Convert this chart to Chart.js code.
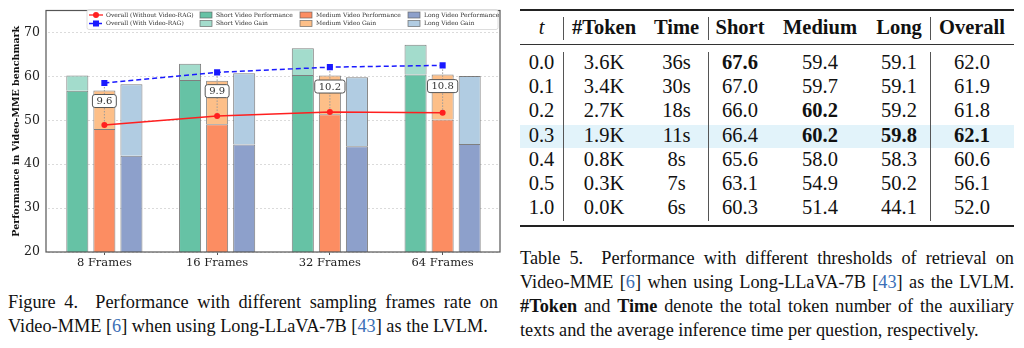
<!DOCTYPE html>
<html>
<head>
<meta charset="utf-8">
<script src="https://cdn.jsdelivr.net/npm/chart.js@4.4.0/dist/chart.umd.min.js"></script>
<style>
  body { margin: 0; width: 1024px; height: 348px; background: #fff; position: relative; overflow: hidden;
         font-family: 'Liberation Serif', 'Times New Roman', serif; color: #111; }
  #fig { position: absolute; left: 0; top: 0; }
  .cap { position: absolute; font-size: 18.3px; line-height: 24px; }
  .cap div { height: 24px; }
  .j { text-align: justify; text-align-last: justify; }
  .nw { white-space: nowrap; }
  .cite { color: #3b6fb6; }
  #tbl div { position: absolute; }
</style>
</head>
<body>
<canvas id="fig" width="510" height="272"></canvas>
<div id="tbl"></div>

<div class="cap" style="left:8px; top:290px; width:490px;">
  <div class="j">Figure 4.&nbsp; Performance with different sampling frames rate on</div>
  <div class="nw">Video-MME [<span class="cite">6</span>] when using Long-LLaVA-7B [<span class="cite">43</span>] as the LVLM.</div>
</div>

<div class="cap" style="left:520px; top:246px; width:494px;">
  <div class="j">Table 5.&nbsp; Performance with different thresholds of retrieval on</div>
  <div class="j">Video-MME [<span class="cite">6</span>] when using Long-LLaVA-7B [<span class="cite">43</span>] as the LVLM.</div>
  <div class="j"><b>#Token</b> and <b>Time</b> denote the total token number of the auxiliary</div>
  <div class="nw">texts and the average inference time per question, respectively.</div>
</div>

<script>
// ---- chart data (Figure 4) ----
const frames = ['8 Frames', '16 Frames', '32 Frames', '64 Frames'];
const shortPerf = [56.7, 59.2, 60.3, 60.4];
const shortGain = [3.5, 3.7, 6.1, 6.8];
const mediumPerf = [48.0, 49.1, 51.4, 50.2];
const mediumGain = [8.8, 9.9, 8.8, 10.2];
const longPerf = [41.9, 44.5, 44.1, 44.6];
const longGain = [16.3, 16.2, 15.7, 15.5];
const overallNoRag = [48.9, 51.0, 51.9, 51.7];
const overallRag = [58.5, 60.9, 62.1, 62.5];
const ragGain = [9.6, 9.9, 10.2, 10.8];

// ---- table data (Table 5) ----
const tHeader = ['t', '#Token', 'Time', 'Short', 'Medium', 'Long', 'Overall'];
const thresholds = ['0.0', '0.1', '0.2', '0.3', '0.4', '0.5', '1.0'];
const tokens = ['3.6K', '3.4K', '2.7K', '1.9K', '0.8K', '0.3K', '0.0K'];
const times = ['36s', '30s', '18s', '11s', '8s', '7s', '6s'];
const shortScores = [67.6, 67.0, 66.0, 66.4, 65.6, 63.1, 60.3];
const mediumScores = [59.4, 59.7, 60.2, 60.2, 58.0, 54.9, 51.4];
const longScores = [59.1, 59.1, 59.2, 59.8, 58.3, 50.2, 44.1];
const overallScores = [62.0, 61.9, 61.8, 62.1, 60.6, 56.1, 52.0];

// build the table
var tbl = document.getElementById('tbl');
var colLeft = [520, 563, 645, 708, 772, 868, 930];
var colWidth = [43, 82, 63, 64, 96, 62, 84];
function box(l, t, w, h, bg) {
  var d = document.createElement('div');
  d.style.cssText = 'left:' + l + 'px;top:' + t + 'px;width:' + w + 'px;height:' + h + 'px;background:' + bg;
  tbl.appendChild(d);
}
function cell(c, top, txt, bold, italic) {
  var d = document.createElement('div');
  d.style.cssText = 'left:' + colLeft[c] + 'px;top:' + top + 'px;width:' + colWidth[c] +
    'px;height:24px;line-height:24px;text-align:center;font-size:20.5px;' +
    (bold ? 'font-weight:bold;' : '') + (italic ? 'font-style:italic;' : '');
  d.textContent = txt;
  tbl.appendChild(d);
}
box(520, 125, 494, 23, '#e2f3fa');
box(520, 9, 494, 2, '#222');
box(520, 44, 494, 1, '#333');
box(520, 225, 494, 2, '#222');
[563, 708, 930].forEach(function (x) {
  box(x, 17, 1, 23, '#555');
  box(x, 52, 1, 169, '#555');
});
tHeader.forEach(function (h, c) { cell(c, 15, h, c > 0, c === 0); });
var scoreCols = [shortScores, mediumScores, longScores, overallScores];
thresholds.forEach(function (t, r) {
  var top = 50 + r * 24.2;
  cell(0, top, t);
  cell(1, top, tokens[r]);
  cell(2, top, times[r]);
  scoreCols.forEach(function (col, k) {
    var best = Math.max.apply(null, col);
    cell(3 + k, top, col[r].toFixed(1), col[r] === best);
  });
});

// ---- chart ----
const serif = "'DejaVu Serif', serif";
const colors = {
  shortPerf: '#66c2a5', shortGain: '#a3dccc',
  mediumPerf: '#fc8d62', mediumGain: '#fdbf88',
  longPerf: '#8da0cb', longGain: '#b1cce2',
  red: '#ff1f1f', blue: '#1a1aff'
};
const barEdge = 'rgba(95,95,95,0.8)';

// legend slot (column, row) for each dataset, matplotlib style
var legendSlots = [[0, 0], [0, 1], [1, 0], [1, 1], [2, 0], [2, 1], [3, 0], [3, 1]];
var legendColX = [89, 200, 300, 408];
var legendRowY = [15, 23.5];

var extras = {
  id: 'extras',
  afterDatasetsDraw: function (chart) {
    var ctx = chart.ctx, area = chart.chartArea;
    var xs = chart.scales.x, ys = chart.scales.y;
    ctx.save();
    // gain markers between the two overall lines
    ragGain.forEach(function (g, i) {
      var x = xs.getPixelForValue(i);
      var yTop = ys.getPixelForValue(overallRag[i]);
      var yBot = ys.getPixelForValue(overallNoRag[i]);
      ctx.strokeStyle = '#9a9a9a';
      ctx.lineWidth = 1;
      ctx.setLineDash([1.5, 1.5]);
      ctx.beginPath();
      ctx.moveTo(x, yTop + 4);
      ctx.lineTo(x, yBot - 3);
      ctx.stroke();
      ctx.setLineDash([]);
      var label = g.toFixed(1);
      ctx.font = '10px ' + serif;
      var w = ctx.measureText(label).width + 8, h = 13;
      var cy = (yTop + yBot) / 2 - 3;
      ctx.beginPath();
      ctx.roundRect(x - w / 2, cy - h / 2, w, h, 2.5);
      ctx.fillStyle = '#fff';
      ctx.fill();
      ctx.strokeStyle = '#555';
      ctx.stroke();
      ctx.fillStyle = '#333';
      ctx.textAlign = 'center';
      ctx.textBaseline = 'middle';
      ctx.fillText(label, x, cy + 0.5);
    });
    // axes frame (left spine sits 2px left of the category area, like the original)
    ctx.strokeStyle = '#555';
    ctx.lineWidth = 1.2;
    ctx.strokeRect(area.left - 2, area.top, area.right - area.left + 3, area.bottom - area.top);
    // legend
    ctx.beginPath();
    ctx.roundRect(87, 9.5, 411, 20, 2);
    ctx.fillStyle = 'rgba(255,255,255,0.85)';
    ctx.fill();
    ctx.strokeStyle = '#d4d4d4';
    ctx.lineWidth = 0.8;
    ctx.stroke();
    ctx.font = '6px ' + serif;
    ctx.textAlign = 'left';
    ctx.textBaseline = 'middle';
    chart.data.datasets.forEach(function (ds, i) {
      var slot = legendSlots[i];
      var x0 = legendColX[slot[0]], y0 = legendRowY[slot[1]];
      if (ds.type === 'line') {
        ctx.strokeStyle = ds.borderColor;
        ctx.lineWidth = 1.3;
        ctx.setLineDash(ds.borderDash || []);
        ctx.beginPath();
        ctx.moveTo(x0, y0);
        ctx.lineTo(x0 + 14, y0);
        ctx.stroke();
        ctx.setLineDash([]);
        ctx.fillStyle = ds.borderColor;
        if (ds.pointStyle === 'rect') {
          ctx.fillRect(x0 + 4, y0 - 3, 6, 6);
        } else {
          ctx.beginPath();
          ctx.arc(x0 + 7, y0, 3, 0, Math.PI * 2);
          ctx.fill();
        }
        ctx.fillStyle = '#333';
        ctx.fillText(ds.label, x0 + 17, y0);
      } else {
        ctx.fillStyle = ds.backgroundColor;
        ctx.fillRect(x0, y0 - 3, 12, 6);
        ctx.strokeStyle = barEdge;
        ctx.lineWidth = 0.8;
        ctx.strokeRect(x0, y0 - 3, 12, 6);
        ctx.fillStyle = '#333';
        ctx.fillText(ds.label, x0 + 16, y0);
      }
    });
    ctx.restore();
  }
};

function bar(label, data, color, stack) {
  return {
    type: 'bar', label: label, data: data, stack: stack,
    backgroundColor: color, borderColor: barEdge, borderWidth: 1,
    categoryPercentage: 0.72, barPercentage: 0.815
  };
}

var ctx = document.getElementById('fig').getContext('2d');
var myChart = new Chart(ctx, {
  data: {
    labels: frames,
    datasets: [
      { type: 'line', label: 'Overall (Without Video-RAG)', data: overallNoRag, stack: 'noRag',
        borderColor: colors.red, backgroundColor: colors.red, borderWidth: 1.5,
        pointStyle: 'circle', pointRadius: 3, pointBorderWidth: 0, tension: 0 },
      { type: 'line', label: 'Overall (With Video-RAG)', data: overallRag, stack: 'rag',
        borderColor: colors.blue, backgroundColor: colors.blue, borderWidth: 1.5, borderDash: [5, 3],
        pointStyle: 'rect', pointRadius: 4.3, pointBorderWidth: 0, tension: 0 },
      bar('Short Video Performance', shortPerf, colors.shortPerf, 'short'),
      bar('Short Video Gain', shortGain, colors.shortGain, 'short'),
      bar('Medium Video Performance', mediumPerf, colors.mediumPerf, 'medium'),
      bar('Medium Video Gain', mediumGain, colors.mediumGain, 'medium'),
      bar('Long Video Performance', longPerf, colors.longPerf, 'long'),
      bar('Long Video Gain', longGain, colors.longGain, 'long')
    ]
  },
  options: {
    responsive: false,
    devicePixelRatio: 1,
    animation: false,
    layout: { padding: { top: 7, right: 11, left: 0, bottom: 0 } },
    plugins: { legend: { display: false }, tooltip: { enabled: false } },
    scales: {
      x: {
        stacked: true,
        grid: { offset: false, drawOnChartArea: false, drawTicks: true, tickLength: 3, tickColor: '#555' },
        border: { display: false },
        ticks: { font: { family: serif, size: 11.5 }, color: '#222', padding: 1, maxRotation: 0 },
        afterFit: function (scale) { scale.height = 20; }
      },
      y: {
        stacked: true,
        min: 20,
        max: 75,
        ticks: { stepSize: 10, includeBounds: false, font: { family: serif, size: 12.5 }, color: '#222', padding: 3 },
        grid: { color: '#d2d2d2', lineWidth: 0.8, tickLength: 5, tickColor: 'rgba(0,0,0,0)' },
        border: { display: false, dash: [2, 2] },
        title: { display: true, text: 'Performance in Video-MME benchmark',
                 font: { family: serif, size: 9.5, weight: 'bold' }, color: '#111', padding: { top: 11, bottom: 0 } },
        afterFit: function (scale) { scale.width = 48; }
      }
    }
  },
  plugins: [extras]
});
</script>
</body>
</html>
